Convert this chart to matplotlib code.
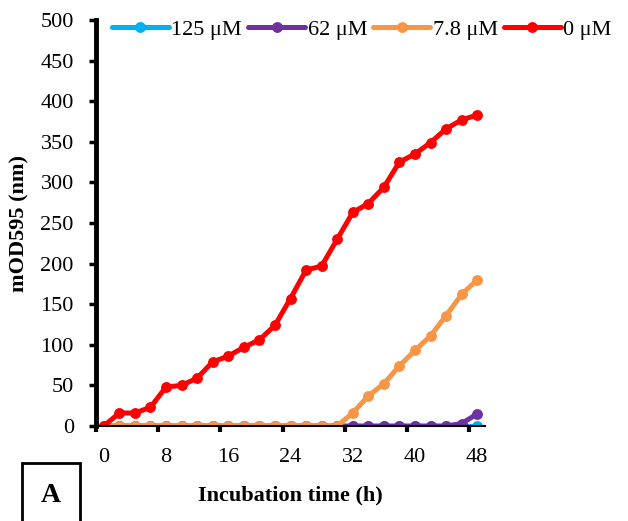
import matplotlib
matplotlib.use("Agg")
import matplotlib.pyplot as plt
from matplotlib.patches import Rectangle

plt.rcParams['font.family'] = ['Liberation Serif', 'DejaVu Serif']

# time points (h)
hours = list(range(0, 50, 2))

# mOD595 readings, one list per concentration
od_125 = [0] * 25
od_62 = [0] * 23 + [3, 15]
od_7_8 = [0] * 16 + [16, 37, 52, 74, 93, 111, 136, 162, 180]
od_0 = [0, 16, 16, 23, 48, 50, 59, 79, 86, 97, 106, 124, 157, 192, 197,
        230, 263, 274, 294, 325, 335, 349, 366, 377, 383]

labels = ['125 \u03bcM', '62 \u03bcM', '7.8 \u03bcM', '0 \u03bcM']
colors = ['#00B0F0', '#7030A0', '#F79646', '#FF0000']
series = [od_125, od_62, od_7_8, od_0]

x_labels = [0, 8, 16, 24, 32, 40, 48]

fig = plt.figure(figsize=(6.28, 5.21), dpi=100)
ax = fig.add_axes([96 / 628, 1 - 426 / 521, (485 - 96) / 628, (426 - 20) / 521])

for vals, lab, col in zip(series, labels, colors):
    ax.plot(hours, vals, color=col, lw=3.6, marker='o', ms=6.8, label=lab,
            solid_capstyle='round')

ax.set_xlim(-1, 49)
ax.set_ylim(0, 500)
ax.set_yticks(range(0, 501, 50))
ax.set_xticks(x_labels)
ax.set_xticks([-1, 7, 15, 23, 31, 39, 47], minor=True)
ax.tick_params(axis='x', which='major', length=0, pad=16, labelsize=16)
ax.tick_params(axis='x', which='minor', length=4, width=3, direction='out')
ax.tick_params(axis='y', length=5, width=2.5, direction='out', pad=11, labelsize=16)

for s in ['top', 'right']:
    ax.spines[s].set_visible(False)
ax.spines['left'].set_linewidth(3.5)
ax.spines['bottom'].set_linewidth(1.5)
ax.spines['left'].set_zorder(0.5)

ax.set_ylabel('mOD595 (nm)', fontsize=16, fontweight='bold', labelpad=8)
ax.set_xlabel('Incubation time (h)', fontsize=16, fontweight='bold', labelpad=13)

fig.legend(loc='center left', bbox_to_anchor=(112 / 628, 1 - 30 / 521), ncol=4,
           frameon=False, fontsize=16, handlelength=2.55, handletextpad=0.12,
           columnspacing=0.28, borderpad=0, borderaxespad=0)

# panel tag
fig.patches.append(Rectangle((22 / 628, -0.01), 58 / 628, (521 - 463) / 521 + 0.01,
                             transform=fig.transFigure, fill=False, lw=2, ec='black'))
fig.text(51 / 628, 1 - 495 / 521, 'A', fontsize=20, fontweight='bold',
         ha='center', va='center')

fig.savefig('out.png', dpi=100)
